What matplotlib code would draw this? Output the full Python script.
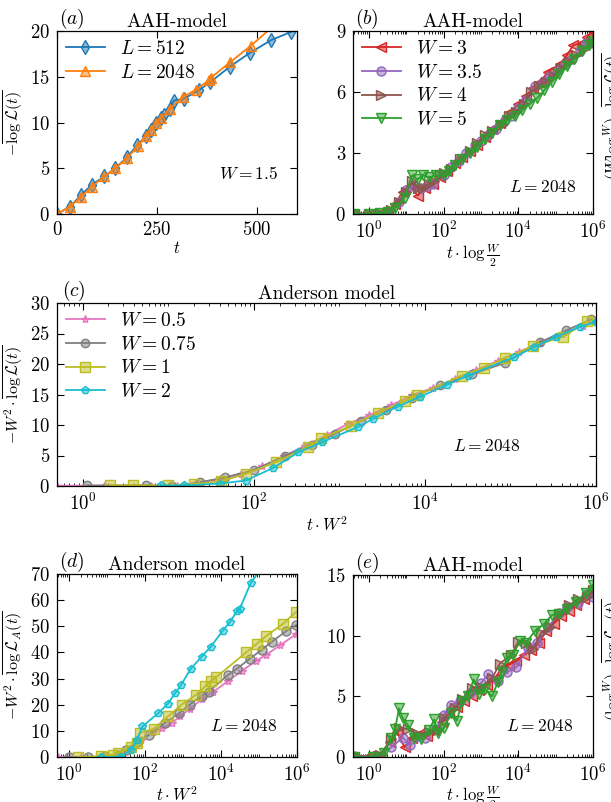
import numpy as np
import matplotlib
matplotlib.use("Agg")
import matplotlib.pyplot as plt
from matplotlib.colors import to_rgba
from matplotlib.ticker import LogLocator, NullFormatter, MultipleLocator

plt.rcParams.update({
    'font.family': 'serif',
    'font.serif': ['cmr10'],
    'mathtext.fontset': 'cm',
    'axes.formatter.use_mathtext': True,
    'axes.unicode_minus': False,
})

# ---------------- data ----------------
# panel (a): AAH-model, W = 1.5
a_L512_t = [0, 32, 61, 87, 118, 146, 175, 200, 222, 235, 248, 261, 267, 282, 292, 317, 354, 383, 432, 482, 535, 585]
a_L512_y = [0, 0.8, 2.1, 3.2, 4.1, 5.0, 6.2, 7.5, 8.5, 9.2, 9.9, 10.5, 10.8, 11.5, 12.4, 12.6, 13.5, 14.4, 16.1, 17.6, 19.0, 19.9]
a_L2048_t = [0, 32, 61, 87, 118, 146, 175, 202, 222, 235, 248, 261, 282, 315, 348, 379, 385, 433, 485, 545]
a_L2048_y = [0, 0.8, 1.9, 3.0, 4.1, 5.0, 6.1, 7.4, 8.5, 9.2, 9.9, 10.5, 11.5, 12.8, 13.6, 14.6, 14.9, 16.6, 18.4, 20.7]

# panel (b): AAH-model scaled (log10 of x, y)
b_W3_lx = [-0.4, 0.0, 0.3, 0.5, 0.7, 0.9, 1.1, 1.3, 1.5, 1.7, 1.9, 2.1, 2.3, 2.5, 2.7, 2.9, 3.1, 3.3, 3.5, 3.78, 4.0, 4.2, 4.4, 4.58, 4.8, 5.12, 5.3, 5.47, 5.7, 5.85, 6.0]
b_W3_y = [0, 0.02, 0.05, 0.15, 0.5, 1.1, 1.4, 0.9, 1.3, 1.5, 1.8, 2.1, 2.5, 2.8, 3.1, 3.4, 3.8, 4.2, 4.5, 5.0, 5.4, 5.8, 6.2, 6.5, 7.0, 7.4, 7.8, 8.3, 8.4, 8.7, 9.0]
b_W35_lx = [-0.4, 0.2, 0.5, 0.8, 1.0, 1.2, 1.4, 1.55, 1.7, 2.0, 2.2, 2.4, 2.6, 2.85, 3.0, 3.2, 3.4, 3.65, 3.8, 4.0, 4.2, 4.45, 4.65, 4.85, 5.05, 5.25, 5.45, 5.65, 5.8, 5.95]
b_W35_y = [0, 0.02, 0.1, 0.6, 1.2, 1.4, 1.3, 1.4, 1.5, 1.9, 2.3, 2.6, 3.0, 3.4, 3.6, 3.9, 4.2, 4.6, 4.8, 5.2, 5.6, 6.3, 6.5, 6.8, 7.1, 7.4, 7.6, 8.0, 8.4, 8.4]
b_W4_lx = [-0.3, 0.0, 0.3, 0.6, 0.8, 1.0, 1.15, 1.3, 1.45, 1.6, 1.75, 1.9, 2.0, 2.2, 2.45, 2.7, 2.9, 3.1, 3.3, 3.55, 3.75, 3.95, 4.15, 4.35, 4.55, 4.75, 4.95, 5.15, 5.35, 5.55, 5.75, 6.0]
b_W4_y = [0, 0.02, 0.05, 0.2, 0.6, 1.1, 1.6, 1.3, 1.3, 1.5, 1.6, 1.9, 2.0, 2.2, 2.7, 3.1, 3.5, 3.9, 4.1, 4.4, 4.8, 5.0, 5.4, 6.0, 6.3, 6.5, 6.8, 7.2, 7.5, 7.8, 8.1, 8.4]
b_W5_lx = [-0.4, 0.0, 0.3, 0.5, 0.7, 0.95, 1.15, 1.3, 1.45, 1.6, 1.8, 2.0, 2.15, 2.3, 2.5, 2.7, 2.9, 3.1, 3.3, 3.5, 3.7, 3.9, 4.1, 4.3, 4.5, 4.7, 4.9, 5.1, 5.3, 5.5, 5.7, 5.9, 6.0]
b_W5_y = [0, 0, 0.05, 0.1, 0.3, 0.8, 1.9, 1.7, 1.9, 1.8, 1.9, 1.9, 2.1, 2.4, 2.7, 3.0, 3.3, 3.7, 4.0, 4.4, 4.6, 4.8, 5.1, 5.4, 5.7, 6.1, 6.5, 6.9, 7.3, 7.6, 8.0, 8.3, 8.5]

# panel (c): Anderson model scaled
c_W05_lx = [-0.3, 0.25, 0.8, 1.1, 1.35, 1.6, 1.85, 2.1, 2.35, 2.6, 2.85, 3.1, 3.35, 3.6, 3.85, 4.1, 4.35, 4.6, 4.85, 5.1, 5.35, 5.6, 5.85, 6.0]
c_W05_y = [0.05, 0.05, 0.05, 0.05, 0.6, 1.1, 1.9, 3.2, 4.9, 6.6, 8.3, 10.2, 11.6, 13.2, 14.9, 16.1, 17.5, 19.0, 20.5, 22.0, 23.5, 24.9, 26.3, 27.0]
c_W075_lx = [0.05, 0.74, 1.04, 1.37, 1.66, 2.0, 2.37, 2.68, 2.95, 3.25, 3.54, 3.85, 4.18, 4.55, 4.94, 5.35, 5.65, 5.94]
c_W075_y = [0.1, 0.1, 0.0, 0.6, 1.4, 2.6, 5.0, 6.8, 8.6, 10.6, 12.4, 14.5, 16.5, 18.3, 20.2, 23.6, 25.5, 27.3]
c_W1_lx = [0.32, 0.59, 1.0, 1.3, 1.62, 1.91, 2.26, 2.63, 2.79, 3.14, 3.45, 3.77, 3.91, 4.43, 4.69, 4.94, 5.26, 5.62, 5.9]
c_W1_y = [0.1, 0.1, 0.1, 0.3, 0.8, 2.0, 3.9, 6.4, 7.8, 9.9, 12.0, 14.0, 14.9, 18.1, 19.4, 21.0, 22.9, 24.5, 27.0]
c_W2_lx = [0.91, 1.19, 1.6, 1.91, 2.23, 2.52, 2.8, 3.22, 3.39, 3.68, 3.94, 4.26, 4.5, 5.04, 5.28, 5.53, 5.81, 6.0]
c_W2_y = [0.1, 0.1, 0.4, 0.9, 3.0, 5.5, 7.2, 9.7, 11.0, 13.0, 14.6, 16.6, 18.1, 21.1, 22.8, 24.4, 26.1, 26.9]

# panel (d): Anderson model, L_A
d_W05_lx = [-0.3, 0.3, 0.9, 1.3, 1.6, 1.9, 2.2, 2.45, 2.7, 2.92, 3.18, 3.49, 3.8, 4.18, 4.55, 4.92, 5.18, 5.55, 5.98]
d_W05_y = [0, 0, 0, 0.5, 3.0, 6.5, 9.5, 11.0, 13.0, 15.5, 18.5, 22.0, 25.0, 29.0, 33.0, 36.7, 39.0, 42.7, 47.0]
d_W075_lx = [0.0, 0.5, 0.95, 1.3, 1.51, 1.78, 2.1, 2.52, 2.9, 3.17, 3.49, 3.67, 4.17, 4.41, 4.75, 5.07, 5.34, 5.72, 5.98]
d_W075_y = [0, 0, 0.2, 0.8, 2.8, 5.8, 8.5, 13.0, 16.8, 20.0, 23.4, 25.0, 31.2, 33.7, 37.5, 41.0, 44.1, 48.2, 50.5]
d_W1_lx = [0.24, 0.85, 1.16, 1.29, 1.64, 1.78, 1.86, 2.23, 2.6, 2.96, 3.34, 3.58, 3.73, 3.87, 4.66, 4.94, 5.19, 5.63, 5.98]
d_W1_y = [0, 0.3, 0.8, 1.4, 4.0, 5.4, 9.2, 10.8, 15.5, 20.0, 23.8, 27.0, 28.9, 30.5, 40.0, 43.3, 46.3, 50.9, 55.6]
d_W2_lx = [0.85, 1.34, 1.64, 1.78, 1.93, 2.35, 2.6, 2.79, 2.94, 3.2, 3.49, 3.73, 4.04, 4.24, 4.43, 4.49, 4.78, 5.05]
d_W2_y = [0, 0, 2.8, 6.4, 11.7, 16.8, 20.4, 24.4, 27.4, 33.7, 38.4, 42.2, 48.2, 51.8, 56.0, 56.6, 66.5, 72.0]

# panel (e): AAH-model, L_A
e_W3_lx = [-0.4, 0.0, 0.3, 0.55, 0.75, 0.95, 1.15, 1.35, 1.55, 1.75, 1.95, 2.15, 2.35, 2.55, 2.75, 2.95, 3.15, 3.35, 3.55, 3.75, 3.95, 4.15, 4.35, 4.55, 4.75, 4.95, 5.15, 5.35, 5.55, 5.75, 6.0]
e_W3_y = [0, 0.05, 0.2, 1.2, 2.1, 0.8, 1.6, 1.9, 1.7, 2.2, 2.9, 3.6, 4.1, 4.6, 5.0, 5.5, 5.9, 6.4, 7.3, 7.6, 7.9, 8.4, 8.8, 9.4, 10.4, 11.0, 11.6, 12.0, 12.5, 13.0, 13.4]
e_W35_lx = [-0.4, 0.2, 0.6, 0.9, 1.1, 1.5, 1.8, 2.0, 2.2, 2.45, 2.7, 3.0, 3.2, 3.45, 3.7, 3.95, 4.25, 4.5, 4.8, 5.1, 5.3, 5.6, 5.85, 6.0]
e_W35_y = [0.1, 0.1, 0.8, 1.6, 1.0, 1.6, 2.3, 3.5, 4.3, 4.6, 5.3, 6.1, 6.8, 6.3, 7.0, 7.4, 9.0, 9.4, 10.7, 11.9, 12.4, 12.7, 13.4, 13.2]
e_W4_lx = [-0.3, 0.3, 0.6, 0.8, 1.05, 1.3, 1.6, 1.85, 2.0, 2.3, 2.5, 2.75, 3.0, 3.3, 3.5, 3.8, 4.0, 4.2, 4.4, 4.6, 4.85, 5.1, 5.35, 5.6, 5.85, 6.0]
e_W4_y = [0, 0.2, 1.5, 2.4, 2.3, 1.9, 2.1, 2.2, 3.2, 4.0, 4.8, 5.7, 5.8, 6.5, 7.7, 8.4, 9.5, 9.4, 8.9, 10.2, 10.7, 11.8, 12.5, 13.0, 13.2, 13.8]
e_W5_lx = [-0.4, 0.1, 0.4, 0.6, 0.7, 0.8, 0.9, 1.05, 1.2, 1.4, 1.6, 1.75, 1.85, 2.0, 2.2, 2.35, 2.5, 2.65, 2.8, 2.95, 3.1, 3.3, 3.45, 3.55, 3.7, 3.85, 4.05, 4.2, 4.45, 4.7, 4.9, 5.1, 5.3, 5.55, 5.8, 6.0]
e_W5_y = [0, 0, 0.3, 1.6, 2.3, 4.0, 3.2, 2.6, 1.6, 1.5, 2.2, 3.1, 2.0, 2.4, 3.6, 3.0, 4.6, 5.0, 6.4, 5.2, 5.6, 5.0, 6.2, 7.0, 8.2, 8.4, 9.6, 9.4, 10.4, 11.0, 11.7, 11.8, 12.2, 12.8, 13.5, 14.2]

AAH_labels = [r'$W=3$', r'$W=3.5$', r'$W=4$', r'$W=5$']
AND_labels = [r'$W=0.5$', r'$W=0.75$', r'$W=1$', r'$W=2$']

# ---------------- style ----------------
C_BLUE, C_ORANGE = '#1f77b4', '#ff7f0e'
AAH_colors = ['#d62728', '#9467bd', '#8c564b', '#2ca02c']
AAH_markers = ['<', 'o', '>', 'v']
AND_colors = ['#e377c2', '#7f7f7f', '#bcbd22', '#17becf']
AND_markers = ['*', 'o', 's', 'p']

TICK_FS = 13.5
TITLE_FS = 14
LEG_FS = 14
XLAB_FS = 12
YLAB_FS = 11.5
ANN_FS = 12.5

W, H = 611, 802
fig = plt.figure(figsize=(W / 100, H / 100), dpi=100)

def box(l, t, r, b):
    return [l / W, (H - b) / H, (r - l) / W, (b - t) / H]

ax_a = fig.add_axes(box(57, 31, 297, 214))
ax_b = fig.add_axes(box(353, 31, 593, 214))
ax_c = fig.add_axes(box(57, 303, 596, 486))
ax_d = fig.add_axes(box(57, 574, 297, 757))
ax_e = fig.add_axes(box(353, 575, 593, 757))

def style(ax, log=False):
    ax.tick_params(which='both', direction='in', top=True, right=True,
                   labelsize=TICK_FS, pad=5)
    ax.tick_params(which='major', length=5, width=0.8)
    ax.tick_params(which='minor', length=2.5, width=0.6)
    for s in ax.spines.values():
        s.set_linewidth(0.9)
    if log:
        ax.set_xscale('log')
        ax.xaxis.set_major_locator(LogLocator(base=100.0, numticks=10))
        ax.xaxis.set_minor_locator(LogLocator(base=10.0, subs=np.arange(1, 10), numticks=30))
        ax.xaxis.set_minor_formatter(NullFormatter())

def tag(ax, letter, title):
    ax.text(0.01, 1.0, r'$(%s)$' % letter, transform=ax.transAxes,
            ha='left', va='bottom', fontsize=14)
    ax.set_title(title, fontsize=TITLE_FS, pad=2)

def plot(ax, x, y, c, m, ms, label=None, lw=1.3):
    ax.plot(x, y, color=c, marker=m, ms=ms, mec=c, mfc=to_rgba(c, 0.5),
            mew=1.0, lw=lw, label=label)

LEG_KW = dict(loc='upper left', frameon=False, fontsize=LEG_FS, handlelength=2.0,
              handletextpad=0.8, borderaxespad=0.25, borderpad=0.2, labelspacing=0.3)

# (a)
style(ax_a)
plot(ax_a, a_L512_t, a_L512_y, C_BLUE, 'd', 7, r'$L=512$')
plot(ax_a, a_L2048_t, a_L2048_y, C_ORANGE, '^', 7, r'$L=2048$')
ax_a.set_xlim(0, 600)
ax_a.set_ylim(0, 20)
ax_a.xaxis.set_major_locator(MultipleLocator(250))
ax_a.yaxis.set_major_locator(MultipleLocator(5))
ax_a.set_xlabel(r'$t$', fontsize=XLAB_FS, labelpad=1)
ax_a.set_ylabel(r'$-\overline{\log\mathcal{L}(t)}$', fontsize=YLAB_FS, labelpad=3)
ax_a.text(0.92, 0.22, r'$W=1.5$', transform=ax_a.transAxes, ha='right',
          va='center', fontsize=ANN_FS)
tag(ax_a, 'a', 'AAH-model')
ax_a.legend(**LEG_KW)

# (b)
style(ax_b, log=True)
b_sets = [(b_W3_lx, b_W3_y), (b_W35_lx, b_W35_y), (b_W4_lx, b_W4_y), (b_W5_lx, b_W5_y)]
for (lx, y), c, m, lab in zip(b_sets, AAH_colors, AAH_markers, AAH_labels):
    plot(ax_b, 10 ** np.array(lx), y, c, m, 6.5, lab)
ax_b.set_xlim(10 ** -0.43, 1e6)
ax_b.set_ylim(0, 9)
ax_b.yaxis.set_major_locator(MultipleLocator(3))
ax_b.set_xlabel(r'$t\cdot\log\frac{W}{2}$', fontsize=XLAB_FS, labelpad=1)
ax_b.yaxis.set_label_position('right')
ax_b.set_ylabel(r'$-(W\log\frac{W}{2})\cdot\overline{\log\mathcal{L}(t)}$',
                fontsize=YLAB_FS, labelpad=5, rotation=90)
ax_b.text(0.93, 0.15, r'$L=2048$', transform=ax_b.transAxes, ha='right',
          va='center', fontsize=ANN_FS)
tag(ax_b, 'b', 'AAH-model')
ax_b.legend(**LEG_KW)

# (c)
style(ax_c, log=True)
c_sets = [(c_W05_lx, c_W05_y), (c_W075_lx, c_W075_y), (c_W1_lx, c_W1_y), (c_W2_lx, c_W2_y)]
c_ms = [6, 6, 7, 6]
for (lx, y), c, m, lab, ms in zip(c_sets, AND_colors, AND_markers, AND_labels, c_ms):
    plot(ax_c, 10 ** np.array(lx), y, c, m, ms, lab)
ax_c.set_xlim(10 ** -0.3, 1e6)
ax_c.set_ylim(0, 30)
ax_c.yaxis.set_major_locator(MultipleLocator(5))
ax_c.set_xlabel(r'$t\cdot W^2$', fontsize=XLAB_FS, labelpad=1)
ax_c.set_ylabel(r'$-W^2\cdot\overline{\log\mathcal{L}(t)}$', fontsize=YLAB_FS, labelpad=3)
ax_c.text(0.86, 0.22, r'$L=2048$', transform=ax_c.transAxes, ha='right',
          va='center', fontsize=ANN_FS)
tag(ax_c, 'c', 'Anderson model')
ax_c.legend(**LEG_KW)

# (d)
style(ax_d, log=True)
d_sets = [(d_W05_lx, d_W05_y), (d_W075_lx, d_W075_y), (d_W1_lx, d_W1_y), (d_W2_lx, d_W2_y)]
d_ms = [6, 6.5, 7, 6]
for (lx, y), c, m, ms in zip(d_sets, AND_colors, AND_markers, d_ms):
    plot(ax_d, 10 ** np.array(lx), y, c, m, ms)
ax_d.set_xlim(10 ** -0.32, 1e6)
ax_d.set_ylim(0, 70)
ax_d.yaxis.set_major_locator(MultipleLocator(10))
ax_d.set_xlabel(r'$t\cdot W^2$', fontsize=XLAB_FS, labelpad=0)
ax_d.set_ylabel(r'$-W^2\cdot\overline{\log\mathcal{L}_A(t)}$', fontsize=YLAB_FS, labelpad=3)
ax_d.text(0.92, 0.17, r'$L=2048$', transform=ax_d.transAxes, ha='right',
          va='center', fontsize=ANN_FS)
tag(ax_d, 'd', 'Anderson model')

# (e)
style(ax_e, log=True)
e_sets = [(e_W3_lx, e_W3_y), (e_W35_lx, e_W35_y), (e_W4_lx, e_W4_y), (e_W5_lx, e_W5_y)]
for (lx, y), c, m in zip(e_sets, AAH_colors, AAH_markers):
    plot(ax_e, 10 ** np.array(lx), y, c, m, 6.5)
ax_e.set_xlim(10 ** -0.43, 1e6)
ax_e.set_ylim(0, 15)
ax_e.yaxis.set_major_locator(MultipleLocator(5))
ax_e.set_xlabel(r'$t\cdot\log\frac{W}{2}$', fontsize=XLAB_FS, labelpad=0)
ax_e.yaxis.set_label_position('right')
ax_e.set_ylabel(r'$-(\log\frac{W}{2})\cdot\overline{\log\mathcal{L}_A(t)}$',
                fontsize=YLAB_FS, labelpad=5, rotation=90)
ax_e.text(0.92, 0.17, r'$L=2048$', transform=ax_e.transAxes, ha='right',
          va='center', fontsize=ANN_FS)
tag(ax_e, 'e', 'AAH-model')

fig.savefig('out.png', dpi=100)
